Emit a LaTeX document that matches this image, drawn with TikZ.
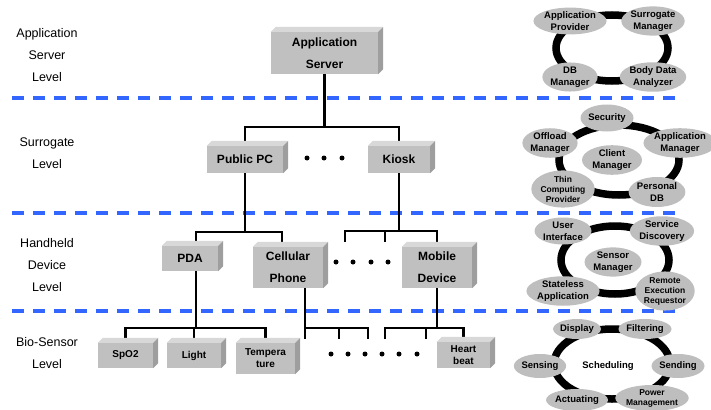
\documentclass[tikz,border=0pt]{standalone}
\usepackage{fontspec}
\setmainfont{Liberation Sans}
\usetikzlibrary{shapes.geometric, calc}

\definecolor{levelblue}{RGB}{51,102,255}
\definecolor{boxgray}{RGB}{192,192,192}
\definecolor{boxtop}{RGB}{216,216,216}
\definecolor{boxside}{RGB}{158,158,158}
\definecolor{ovalgray}{RGB}{190,190,190}

% top and right faces of a box node
\newcommand{\slab}[1]{%
  \fill[boxtop] (#1.north west) -- ++(5,-5) -- ($(#1.north east)+(5,-5)$) -- (#1.north east) -- cycle;
  \fill[boxside] (#1.north east) -- ++(5,-5) -- ($(#1.south east)+(5,-5)$) -- (#1.south east) -- cycle;}

\begin{document}
\begin{tikzpicture}[
        x=1pt, y=-1pt,
        level/.style={align=center, font=\fontsize{12.5}{22}\selectfont},
        unit/.style={fill=boxgray, inner sep=0, align=center, font=\bfseries\fontsize{12}{22}\selectfont},
        sensor/.style={unit, font=\bfseries\fontsize{10}{12}\selectfont},
        wire/.style={line width=2.2pt},
        divider/.style={levelblue, line width=3.5pt, dash pattern=on 12pt off 9pt},
        ring/.style={line width=7.5pt},
        oval/.style={ellipse, fill=ovalgray, inner sep=0, align=center, font=\bfseries\fontsize{9.5}{12}\selectfont},
        smalloval/.style={oval, font=\bfseries\fontsize{8.5}{10}\selectfont}
    ]
    \useasboundingbox (0,0) rectangle (711,409);

    % ---- level names ----
    \node[level] (lvserver) at (47,55) {Application\\Server\\Level};
    \node[level] (lvsurr) at (47,153) {Surrogate\\Level};
    \node[level] (lvhand) at (47,265) {Handheld\\Device\\Level};
    \node[level] (lvbio) at (47,353) {Bio-Sensor\\Level};

    % ---- level boundaries ----
    \foreach \y in {98,213,311}
        \draw[divider] (12,\y) -- (682,\y);

    % ---- devices ----
    \node[unit, minimum width=107pt, minimum height=42pt] (appsrv) at (324.5,53) {Application\\Server};
    \node[unit, minimum width=76pt, minimum height=27pt] (pubpc) at (245,159.5) {Public PC};
    \node[unit, minimum width=62pt, minimum height=27pt] (kiosk) at (399,159.5) {Kiosk};
    \node[unit, minimum width=56pt, minimum height=25pt] (pda) at (190,258.5) {PDA};
    \node[unit, minimum width=70pt, minimum height=41pt] (cell) at (288,267.5) {Cellular\\Phone};
    \node[unit, minimum width=70pt, minimum height=41pt] (mobile) at (437,267.5) {Mobile\\Device};
    \node[sensor, minimum width=55pt, minimum height=25pt] (spo2) at (125.5,355.5) {SpO2};
    \node[sensor, minimum width=54pt, minimum height=25pt] (light) at (194,355.5) {Light};
    \node[sensor, minimum width=59pt, minimum height=31pt] (temp) at (265.5,358.5) {Tempera\\ture};
    \node[sensor, minimum width=53pt, minimum height=26pt] (heart) at (463.5,355) {Heart\\beat};

    % ---- server to surrogates ----
    \draw[wire] (appsrv.south) -- ++(0,53);
    \draw[wire] (pubpc.north) -- ++(0,-19) -| (kiosk.north);

    % ---- surrogates to handhelds ----
    \draw[wire] (pubpc.south) -- ++(0,59);
    \draw[wire] ([xshift=6pt]pda.north) -- ++(0,-14) -| ([xshift=-6pt]cell.north);
    \draw[wire] (kiosk.south) -- ++(0,58);
    \coordinate (k1) at (345,242);
    \coordinate (k2) at (385,242);
    \draw[wire] (k1) -- ++(0,-11) -| (mobile.north);
    \draw[wire] (k2) -- ++(0,-11);

    % ---- handhelds to bio-sensors ----
    \draw[wire] ([xshift=6pt]pda.south) -- ++(0,57);
    \draw[wire] (spo2.north) -- ++(0,-15) -| (temp.north);
    \draw[wire] (light.north) -- ++(0,-15);
    \coordinate (c1) at (339,339);
    \coordinate (c2) at (368,339);
    \draw[wire] ([xshift=17pt]cell.south) -- ++(0,51);
    \draw[wire] ([xshift=17pt,yshift=-40pt]cell.south) -| (c2);
    \draw[wire] (c1) -- ++(0,-11);
    \coordinate (m1) at (385,339);
    \coordinate (m2) at (426,339);
    \draw[wire] (mobile.south) -- ++(0,40);
    \draw[wire] (m1) -- ++(0,-11) -| (heart.north);
    \draw[wire] (m2) -- ++(0,-11);

    % ---- box faces ----
    \foreach \b in {appsrv,pubpc,kiosk,pda,cell,mobile,spo2,light,temp,heart}
        \slab{\b};

    % ---- more of the same ----
    \foreach \x in {307,324,342} \fill (\x,158) circle (2.5pt);
    \foreach \x in {336,353,371,388} \fill (\x,262) circle (2.5pt);
    \foreach \x in {331,348,365,382,399,417} \fill (\x,354) circle (2.5pt);

    % ---- server components ----
    \draw[ring] (612,48) ellipse [x radius=56, y radius=33];
    \node[oval, minimum width=55pt, minimum height=26pt] (aprov) at (570,21) {Application\\Provider};
    \node[oval, minimum width=55pt, minimum height=26pt] (smgr) at (653,21) {Surrogate\\Manager};
    \node[oval, minimum width=55pt, minimum height=25pt] (dbmgr) at (570,77) {DB\\Manager};
    \node[oval, minimum width=55pt, minimum height=25pt] (bda) at (653,77) {Body Data\\Analyzer};

    % ---- surrogate components ----
    \draw[ring] (619,160) ellipse [x radius=60, y radius=35];
    \node[oval, minimum width=48pt, minimum height=27pt] (secu) at (607,118) {Security};
    \node[oval, minimum width=48pt, minimum height=28pt] (offl) at (550,143) {Offload\\Manager};
    \node[oval, minimum width=52pt, minimum height=28pt] (appmgr) at (680,143) {Application\\Manager};
    \node[oval, minimum width=60pt, minimum height=29pt] (client) at (612,160) {Client\\Manager};
    \node[smalloval, minimum width=48pt, minimum height=32pt] (thin) at (563,189) {Thin\\Computing\\Provider};
    \node[oval, minimum width=49pt, minimum height=30pt] (pdb) at (657,192) {Personal\\DB};

    % ---- handheld components ----
    \draw[ring] (615,260) ellipse [x radius=54, y radius=34];
    \node[oval, minimum width=57pt, minimum height=27pt] (uif) at (563,231) {User\\Interface};
    \node[oval, minimum width=58pt, minimum height=27pt] (sdisc) at (662,231) {Service\\Discovery};
    \node[oval, minimum width=57pt, minimum height=27pt] (smngr) at (613,262) {Sensor\\Manager};
    \node[oval, minimum width=57pt, minimum height=27pt] (stl) at (563,291) {Stateless\\Application};
    \node[smalloval, minimum width=57pt, minimum height=33pt] (rer) at (665,291) {Remote\\Execution\\Requestor};

    % ---- bio-sensor components ----
    \draw[ring] (612,364) ellipse [x radius=58, y radius=35];
    \node[oval, minimum width=47pt, minimum height=20pt] (disp) at (577,329) {Display};
    \node[oval, minimum width=47pt, minimum height=20pt] (filt) at (645,329) {Filtering};
    \node[oval, minimum width=47pt, minimum height=24pt] (sens) at (540,366) {Sensing};
    \node[font=\bfseries\fontsize{9.5}{12}\selectfont] (sched) at (608,366) {Scheduling};
    \node[oval, minimum width=45pt, minimum height=24pt] (send) at (678,366) {Sending};
    \node[oval, minimum width=47pt, minimum height=22pt] (act) at (577,400) {Actuating};
    \node[smalloval, minimum width=60pt, minimum height=26pt] (power) at (652,398) {Power\\Management};

\end{tikzpicture}
\end{document}
